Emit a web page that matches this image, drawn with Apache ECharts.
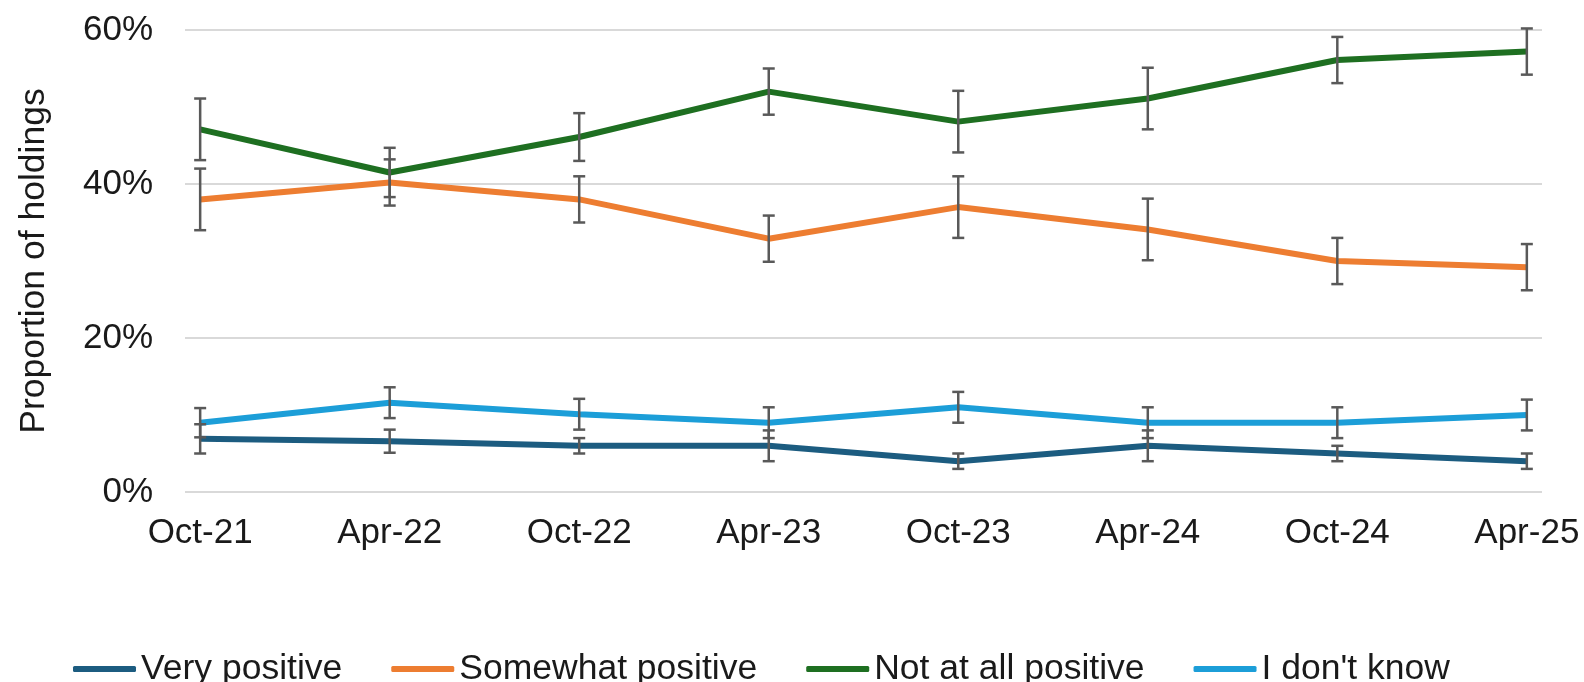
<!DOCTYPE html>
<html>
<head>
<meta charset="utf-8">
<script src="https://cdn.jsdelivr.net/npm/echarts@6/dist/echarts.min.js"></script>
<style>
html,body{margin:0;padding:0;background:#fff;}
#chart{width:1584px;height:682px;}
</style>
</head>
<body>
<div id="chart"></div>
<script>
const categories = ['Oct-21','Apr-22','Oct-22','Apr-23','Oct-23','Apr-24','Oct-24','Apr-25'];
const yTicks = [0, 20, 40, 60];
const seriesNames = ['Very positive','Somewhat positive','Not at all positive',"I don't know"];
const veryPositive     = [6.9, 6.6, 6.0, 6.0, 4.0, 6.0, 5.0, 4.0];
const somewhatPositive = [38.0, 40.2, 38.0, 32.9, 37.0, 34.1, 30.0, 29.2];
const notAtAllPositive = [47.1, 41.5, 46.1, 52.0, 48.1, 51.1, 56.1, 57.2];
const dontKnow         = [9.0, 11.6, 10.1, 9.0, 11.0, 9.0, 9.0, 10.0];
const errVery     = [1.9, 1.5, 1.0, 2.0, 1.0, 2.0, 1.0, 1.0];
const errSomewhat = [4.0, 3.0, 3.0, 3.0, 4.0, 4.0, 3.0, 3.0];
const errNotAtAll = [4.0, 3.2, 3.1, 3.0, 4.0, 4.0, 3.0, 3.0];
const errDontKnow = [1.9, 2.0, 2.0, 2.0, 2.0, 2.0, 2.0, 2.0];

const colors = ['#1c5c80', '#ed7d31', '#1e6f21', '#1c9ed8'];
const allValues = [veryPositive, somewhatPositive, notAtAllPositive, dontKnow];
const allErrors = [errVery, errSomewhat, errNotAtAll, errDontKnow];

const FONT = 'Liberation Sans, Arial, sans-serif';
const chart = echarts.init(document.getElementById('chart'), null, {renderer: 'canvas'});

const lineSeries = seriesNames.map((name, s) => ({
  name: name,
  type: 'line',
  data: allValues[s].map((v, i) => [i, v]),
  symbol: 'none',
  lineStyle: {color: colors[s], width: 6},
  itemStyle: {color: colors[s]},
  z: 2 + s,
  animation: false
}));

const errData = [];
allValues.forEach((vals, s) => {
  vals.forEach((v, i) => {
    errData.push([i, v - allErrors[s][i], v + allErrors[s][i]]);
  });
});

const errorSeries = {
  type: 'custom',
  name: 'errors',
  data: errData,
  z: 10,
  silent: true,
  animation: false,
  renderItem: function (params, api) {
    const x = api.value(0);
    const lo = api.coord([x, api.value(1)]);
    const hi = api.coord([x, api.value(2)]);
    const cw = 6;
    const style = {stroke: '#595959', lineWidth: 2.5, fill: null};
    return {
      type: 'group',
      children: [
        {type: 'line', shape: {x1: lo[0], y1: lo[1], x2: hi[0], y2: hi[1]}, style: style},
        {type: 'line', shape: {x1: lo[0] - cw, y1: lo[1], x2: lo[0] + cw, y2: lo[1]}, style: style},
        {type: 'line', shape: {x1: hi[0] - cw, y1: hi[1], x2: hi[0] + cw, y2: hi[1]}, style: style}
      ]
    };
  }
};

chart.setOption({
  backgroundColor: '#ffffff',
  animation: false,
  grid: {left: 185, right: 42, top: 30, bottom: 190, containLabel: false},
  xAxis: {
    type: 'value',
    min: -0.08,
    max: 7.08,
    axisLine: {show: false},
    axisTick: {show: false},
    splitLine: {show: false},
    axisLabel: {
      customValues: categories.map((c, i) => i),
      formatter: function (v) { return categories[Math.round(v)]; },
      color: '#1a1a1a',
      fontFamily: FONT,
      fontSize: 35,
      margin: 24
    }
  },
  yAxis: {
    type: 'value',
    min: yTicks[0],
    max: yTicks[yTicks.length - 1],
    interval: yTicks[1] - yTicks[0],
    name: 'Proportion of holdings',
    nameLocation: 'middle',
    nameGap: 133,
    nameRotate: 90,
    nameTextStyle: {color: '#1a1a1a', fontFamily: FONT, fontSize: 35.5},
    axisLine: {show: false},
    axisTick: {show: false},
    axisLabel: {
      formatter: '{value}%',
      color: '#1a1a1a',
      fontFamily: FONT,
      fontSize: 35,
      margin: 32
    },
    splitLine: {lineStyle: {color: '#d9d9d9', width: 2}}
  },
  legend: {
    data: seriesNames,
    left: 68,
    top: 646,
    itemWidth: 63,
    itemHeight: 6,
    itemGap: 49,
    icon: 'roundRect',
    textStyle: {color: '#1a1a1a', fontFamily: FONT, fontSize: 35.5}
  },
  series: lineSeries.concat([errorSeries])
});
</script>
</body>
</html>
